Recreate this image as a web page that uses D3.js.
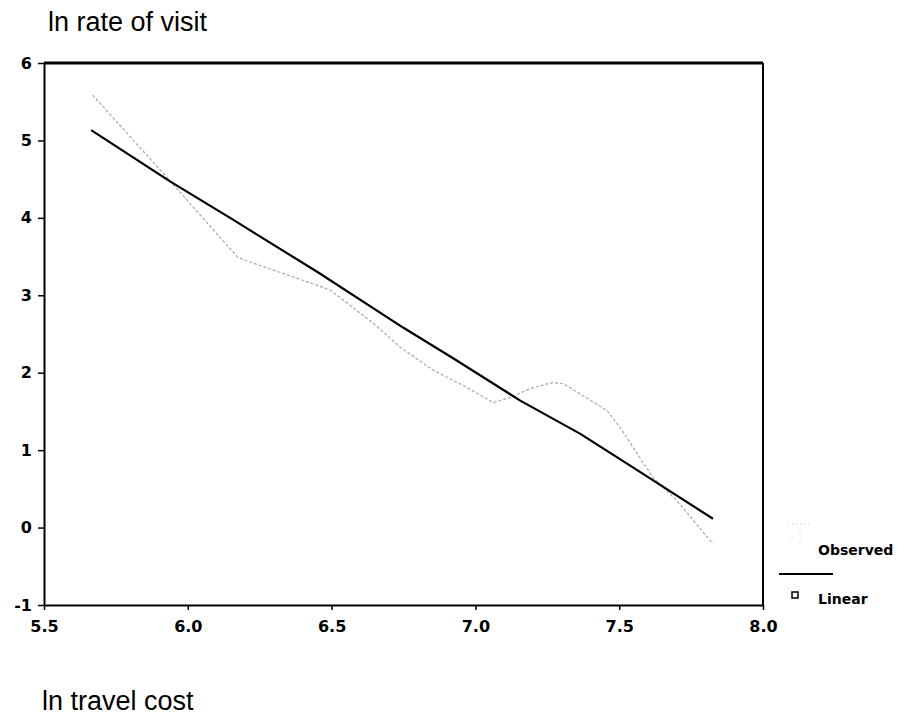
<!DOCTYPE html>
<html>
<head>
<meta charset="utf-8">
<script src="https://cdn.jsdelivr.net/npm/d3@7"></script>
<style>
  body { margin: 0; background: #fff; }
  svg { display: block; }
</style>
</head>
<body>
<svg id="chart"></svg>
<script>
// values
const observedX = [5.669, 5.94, 6.174, 6.201, 6.451, 6.497, 6.646, 6.74, 6.854, 6.958, 7.063, 7.122, 7.191, 7.267, 7.306, 7.458, 7.503, 7.618, 7.701, 7.826];
const observedY = [5.586, 4.47, 3.49, 3.45, 3.128, 3.063, 2.636, 2.326, 2.03, 1.834, 1.614, 1.679, 1.796, 1.873, 1.86, 1.511, 1.291, 0.644, 0.347, -0.21];
const linearX = [5.664, 5.941, 6.16, 6.451, 6.75, 6.924, 7.156, 7.365, 7.549, 7.826];
const linearY = [5.133, 4.464, 3.97, 3.30, 2.58, 2.184, 1.64, 1.21, 0.774, 0.114];
const xTicks = [5.5, 6.0, 6.5, 7.0, 7.5, 8.0];
const yTicks = [-1, 0, 1, 2, 3, 4, 5, 6];

const width = 907, height = 718;
const margin = { top: 63, right: 144, bottom: 113, left: 44 };
const innerW = width - margin.left - margin.right;
const innerH = height - margin.top - margin.bottom;

const svg = d3.select("#chart").attr("width", width).attr("height", height);
const chart = svg.append("g").attr("transform", `translate(${margin.left},${margin.top})`);

const x = d3.scaleLinear().domain([5.5, 8.0]).range([0, innerW]);
const y = d3.scaleLinear().domain([-1, 6]).range([innerH, 0]);

const tickFont = "'DejaVu Sans', Verdana, sans-serif";

// frame: top + right lines
chart.append("line")
    .attr("x1", 0).attr("x2", innerW).attr("y1", 0).attr("y2", 0)
    .attr("stroke", "#000").attr("stroke-width", 3);
chart.append("line")
    .attr("x1", innerW).attr("x2", innerW).attr("y1", 0).attr("y2", innerH)
    .attr("stroke", "#000").attr("stroke-width", 2);

const yAxis = chart.append("g")
    .call(d3.axisLeft(y).tickValues(yTicks).tickFormat(d => String(d)).tickSize(6).tickSizeOuter(0).tickPadding(6));
const xAxis = chart.append("g")
    .attr("transform", `translate(0,${innerH})`)
    .call(d3.axisBottom(x).tickValues(xTicks).tickFormat(d => d.toFixed(1)).tickSize(5).tickSizeOuter(0).tickPadding(11));

[yAxis, xAxis].forEach(ax => {
    ax.select(".domain").attr("stroke", "#000").attr("stroke-width", 2);
    ax.selectAll(".tick line").attr("stroke", "#000").attr("stroke-width", 1.5);
    ax.selectAll(".tick text")
        .attr("fill", "#000")
        .style("font-family", tickFont)
        .style("font-weight", "bold")
        .style("font-size", "16px");
});

const observed = observedX.map((v, i) => ({ x: v, y: observedY[i] }));
const linear = linearX.map((v, i) => ({ x: v, y: linearY[i] }));

const line = d3.line().x(d => x(d.x)).y(d => y(d.y));

chart.append("path")
    .datum(observed)
    .attr("fill", "none")
    .attr("stroke", "#a8a8a8")
    .attr("stroke-width", 1.2)
    .attr("stroke-dasharray", "3,2")
    .attr("d", line);

chart.append("path")
    .datum(linear)
    .attr("fill", "none")
    .attr("stroke", "#000")
    .attr("stroke-width", 2.2)
    .attr("stroke-linejoin", "round")
    .attr("d", line);

// axis titles
svg.append("text")
    .attr("x", 48).attr("y", 31)
    .style("font-family", "'Liberation Sans', Arial, sans-serif")
    .style("font-size", "27px")
    .text("ln rate of visit");

svg.append("text")
    .attr("x", 42).attr("y", 710)
    .style("font-family", "'Liberation Sans', Arial, sans-serif")
    .style("font-size", "27px")
    .text("ln travel cost");

// legend
const legend = svg.append("g")
    .style("font-family", tickFont)
    .style("font-size", "14px")
    .style("font-weight", "bold");

legend.append("path")
    .attr("d", "M788,524 L812,524 M800,530 L800,546 M790,540 L794,536")
    .attr("stroke", "#c8c8c8").attr("stroke-width", 1).attr("stroke-dasharray", "1,3");
legend.append("text").attr("x", 818).attr("y", 555).text("Observed");

legend.append("line")
    .attr("x1", 779).attr("x2", 833).attr("y1", 574).attr("y2", 574)
    .attr("stroke", "#000").attr("stroke-width", 2);
legend.append("rect")
    .attr("x", 792).attr("y", 592).attr("width", 6).attr("height", 6)
    .attr("fill", "none").attr("stroke", "#000").attr("stroke-width", 1.5);
legend.append("text").attr("x", 818).attr("y", 604).text("Linear");
</script>
</body>
</html>
